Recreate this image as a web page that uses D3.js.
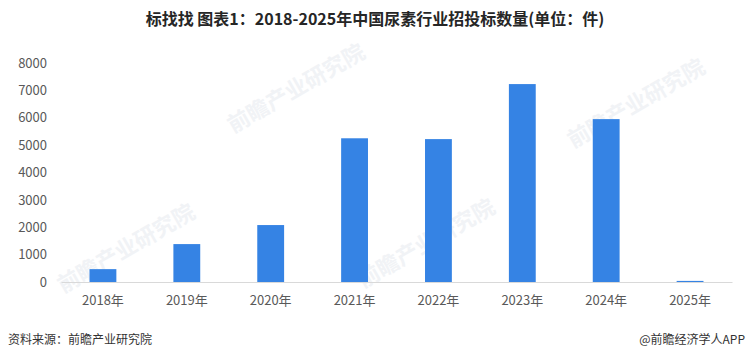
<!DOCTYPE html>
<html><head><meta charset="utf-8">
<script src="https://cdn.jsdelivr.net/npm/d3@7"></script>
<style>body{margin:0;background:#fff}svg{display:block}</style>
</head><body>
<svg id="c" width="749" height="361"></svg>
<script>
const categories = ["2018年","2019年","2020年","2021年","2022年","2023年","2024年","2025年"];
const values = [470, 1385, 2080, 5250, 5220, 7230, 5950, 40];
const yTicks = [0,1000,2000,3000,4000,5000,6000,7000,8000];
const titleText = "标找找 图表1：2018-2025年中国尿素行业招投标数量(单位：件)";
const sourceText = "资料来源：前瞻产业研究院";
const brandText = "@前瞻经济学人APP";

const svg = d3.select("#c");
const font = "'Microsoft YaHei','Noto Sans CJK SC',sans-serif";

// faint watermarks
const wm = [[130,255],[430,250],[300,95],[640,110]];
wm.forEach(([x,y])=>{
  svg.append("text").attr("transform",`translate(${x},${y}) rotate(-30)`)
    .attr("text-anchor","middle").attr("font-family",font).attr("font-size",22).attr("font-weight","bold")
    .attr("fill","#f1f3f6").text("前瞻产业研究院");
});

const x = d3.scaleBand().domain(categories).range([61,732]).paddingInner(0.68).paddingOuter(0.34);
const y = d3.scaleLinear().domain([0,8000]).range([282,63]);

svg.append("text").attr("x",375).attr("y",25).attr("text-anchor","middle")
  .attr("font-family",font).attr("font-weight","bold").attr("font-size",16).attr("fill","#262626").text(titleText);

svg.selectAll("rect.bar").data(values).join("rect").attr("class","bar")
  .attr("x",(d,i)=>x(categories[i])).attr("width",x.bandwidth())
  .attr("y",d=>y(d)).attr("height",d=>y(0)-y(d)).attr("fill","#3583e4");

const ya = d3.axisLeft(y).tickValues(yTicks).tickFormat(d3.format("d")).tickSize(0).tickPadding(0);
const gy = svg.append("g").attr("transform","translate(47,0)").call(ya);
gy.select(".domain").remove();
gy.selectAll("text").attr("font-family",font).attr("font-size",13).attr("fill","#595959");

const xa = d3.axisBottom(x).tickSize(0).tickPadding(14);
const gx = svg.append("g").attr("transform","translate(0,282)").call(xa);
gx.select(".domain").attr("stroke","#d9d9d9");
gx.selectAll("text").attr("font-family",font).attr("font-size",13).attr("fill","#595959");

svg.append("text").attr("x",8).attr("y",344).attr("font-family",font).attr("font-size",12).attr("fill","#333").text(sourceText);
svg.append("text").attr("x",745).attr("y",344).attr("text-anchor","end").attr("font-family",font).attr("font-size",12).attr("fill","#333").text(brandText);
</script>
</body></html>
